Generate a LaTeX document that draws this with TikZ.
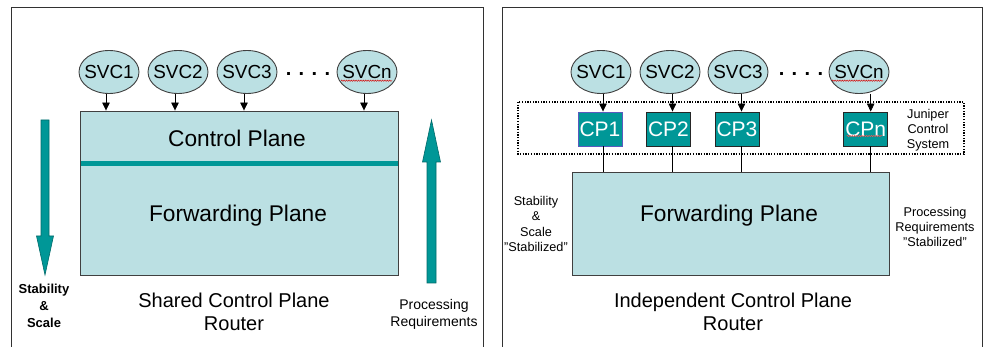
\documentclass[tikz,border=0pt]{standalone}
\usepackage{fontspec}
\setmainfont{Liberation Sans}
\usetikzlibrary{shapes.geometric,arrows.meta,decorations.pathmorphing}

\definecolor{paleteal}{RGB}{187,224,227}
\definecolor{deepteal}{RGB}{0,151,151}
\definecolor{edgegray}{RGB}{64,64,64}
\definecolor{framegray}{RGB}{50,50,50}
\definecolor{cpblue}{RGB}{90,90,190}

\tikzset{
  svc/.style={ellipse, draw=edgegray, line width=0.9pt, fill=paleteal,
    minimum width=60pt, minimum height=43pt, inner xsep=-4pt, inner ysep=0pt,
    font=\fontsize{18.9}{20}\selectfont},
  plane/.style={rectangle, draw=edgegray, line width=0.9pt, fill=paleteal, inner sep=0pt},
  cpbox/.style={rectangle, draw=black!85, line width=0.9pt, fill=deepteal,
    minimum width=44pt, minimum height=34pt, inner sep=0pt, text=white,
    font=\fontsize{21}{22}\selectfont},
  bigtext/.style={font=\fontsize{22.7}{24}\selectfont},
  titletext/.style={align=center, font=\fontsize{20}{23}\selectfont},
  sidetext/.style={align=center, font=\fontsize{14}{17}\selectfont},
  sidebold/.style={align=center, font=\bfseries\fontsize{13}{17}\selectfont},
  smalltext/.style={align=center, font=\fontsize{12.7}{15.2}\selectfont},
  dotrow/.style={font=\bfseries\fontsize{20}{22}\selectfont},
  svcarrow/.style={-{Triangle[width=7.5pt,length=8pt]}, line width=0.7pt, black},
  link/.style={line width=0.7pt, black},
  fatarrow/.style={fill=deepteal, draw=deepteal!70!black, line width=0.6pt},
  squiggle/.style={red!85!black, line width=0.45pt,
    decorate, decoration={snake, segment length=2.4pt, amplitude=0.7pt}},
  panelframe/.style={draw=framegray, line width=1pt},
}

\begin{document}
\begin{tikzpicture}[x=1pt, y=-1pt]
\useasboundingbox (0,0) rectangle (989,347);

% ---------- panel frames (open at the bottom) ----------
\draw[panelframe] (11,347) -- (11,7.5) -- (483.5,7.5) -- (483.5,347);
\draw[panelframe] (502,347) -- (502,8) -- (982,8) -- (982,347);

% ================= shared control plane router =================
\node[plane, minimum width=318pt, minimum height=164pt] (lbox) at (239,193) {};
\fill[deepteal] (80.5,161) rectangle (397.5,166);
\node[bigtext] (lcp) at (237,138) {Control Plane};
\node[bigtext] (lfp) at (238,216) {Forwarding Plane};

\node[svc] (ls1) at (109,72) {SVC1};
\node[svc] (ls2) at (178,72) {SVC2};
\node[svc] (ls3) at (247,72) {SVC3};
\node[svc] (lsn) at (367,72) {SVCn};
\node[dotrow] (ldots) at (308,74) {. . . .};
\draw[squiggle] ([xshift=-26pt,yshift=-8.7pt]lsn.center) -- ([xshift=25pt,yshift=-8.7pt]lsn.center);

\foreach \s in {ls1,ls2,ls3,lsn}
  \draw[svcarrow] ([xshift=-3pt]\s.south) -- ([xshift=-3pt]\s.south |- lbox.north);

% stability arrow (down) and processing arrow (up)
\draw[fatarrow] (41,120) -- (49,120) -- (49,236) -- (53.5,236) -- (45,275)
  -- (36.5,236) -- (41,236) -- cycle;
\draw[fatarrow] (427,283) -- (436,283) -- (436,162) -- (440.5,162) -- (431.5,120)
  -- (422.5,162) -- (427,162) -- cycle;

\node[sidebold] (lstab) at (44,306) {Stability\\\&\\Scale};
\node[titletext] (ltitle) at (234,311.5) {Shared Control Plane\\Router};
\node[sidetext] (lproc) at (434,314.5) {Processing\\Requirements};

% ================= independent control plane router =================
\draw[line width=1.3pt, dash pattern=on 1.3pt off 1.4pt] (518,102) rectangle (964,154);

\node[svc] (rs1) at (601,72) {SVC1};
\node[svc] (rs2) at (670,72) {SVC2};
\node[svc] (rs3) at (738,72) {SVC3};
\node[svc] (rsn) at (859,72) {SVCn};
\node[dotrow] (rdots) at (801,74) {. . . .};
\draw[squiggle] ([xshift=-27pt,yshift=-8.7pt]rsn.center) -- ([xshift=24pt,yshift=-8.7pt]rsn.center);

\node[cpbox, draw=cpblue] (cp1) at (600,129) {CP1};
\node[cpbox] (cp2) at (668.5,129) {CP2};
\node[cpbox] (cp3) at (737,129) {CP3};
\node[cpbox] (cpn) at (865.7,129) {CPn};
\draw[squiggle, red!70!white] ([xshift=-19pt,yshift=-7pt]cpn.center) -- ([xshift=17pt,yshift=-7pt]cpn.center);

\node[plane, minimum width=317pt, minimum height=103pt] (rfp) at (730.5,223.5) {};
\node[bigtext] (rfptext) at (729,216) {Forwarding Plane};

\draw[svcarrow] ([xshift=3pt]cp1.north |- rs1.south) -- ([xshift=3pt]cp1.north);
\draw[svcarrow] ([xshift=4pt]cp2.north |- rs2.south) -- ([xshift=4pt]cp2.north);
\draw[svcarrow] ([xshift=4.5pt]cp3.north |- rs3.south) -- ([xshift=4.5pt]cp3.north);
\draw[svcarrow] ([xshift=5pt]cpn.north |- rsn.south) -- ([xshift=5pt]cpn.north);

\draw[link] ([xshift=3pt]cp1.south) -- ([xshift=3pt]cp1.south |- rfp.north);
\draw[link] ([xshift=4pt]cp2.south) -- ([xshift=4pt]cp2.south |- rfp.north);
\draw[link] ([xshift=4.5pt]cp3.south) -- ([xshift=4.5pt]cp3.south |- rfp.north);
\draw[link] ([xshift=5pt]cpn.south) -- ([xshift=5pt]cpn.south |- rfp.north);

\node[smalltext] (jcs) at (928,130) {Juniper\\Control\\System};
\node[smalltext] (rstab) at (536,224) {Stability\\\&\\Scale\\"Stabilized"};
\node[smalltext] (rproc) at (935,227) {Processing\\Requirements\\"Stabilized"};
\node[titletext] (rtitle) at (733,311.5) {Independent Control Plane\\Router};

\end{tikzpicture}
\end{document}
